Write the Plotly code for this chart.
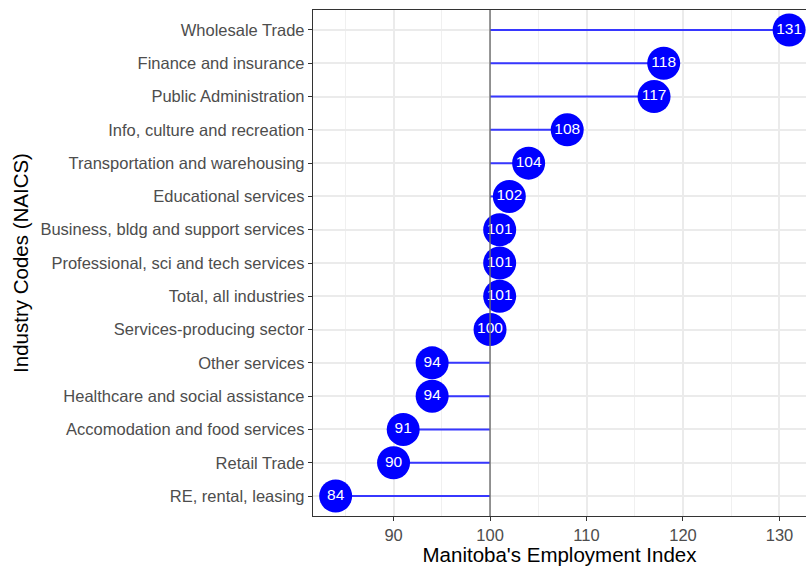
import plotly.graph_objects as go

industries = [
    "Wholesale Trade",
    "Finance and insurance",
    "Public Administration",
    "Info, culture and recreation",
    "Transportation and warehousing",
    "Educational services",
    "Business, bldg and support services",
    "Professional, sci and tech services",
    "Total, all industries",
    "Services-producing sector",
    "Other services",
    "Healthcare and social assistance",
    "Accomodation and food services",
    "Retail Trade",
    "RE, rental, leasing",
]
index_values = [131, 118, 117, 108, 104, 102, 101, 101, 101, 100, 94, 94, 91, 90, 84]
baseline = 100
x_ticks = [90, 100, 110, 120, 130]

FONT = "Liberation Sans, Arial, sans-serif"
BLUE = "#0000ff"

seg_x, seg_y = [], []
for cat, v in zip(industries, index_values):
    seg_x += [baseline, v, None]
    seg_y += [cat, cat, None]

fig = go.Figure()
fig.add_trace(go.Scatter(
    x=seg_x, y=seg_y, mode="lines",
    line=dict(color="rgb(55,55,255)", width=2),
    hoverinfo="skip", showlegend=False,
))
fig.add_trace(go.Scatter(
    x=index_values, y=industries, mode="markers+text",
    marker=dict(color=BLUE, size=33, line=dict(width=0)),
    text=[str(v) for v in index_values],
    textposition="middle center",
    textfont=dict(color="white", size=15.5, family=FONT),
    showlegend=False, cliponaxis=False,
))
fig.add_shape(type="line", xref="x", yref="paper", x0=baseline, x1=baseline, y0=0, y1=1,
              line=dict(color="#6e6e6e", width=1.4), layer="above")

n = len(industries)
fig.update_layout(
    width=806, height=566,
    margin=dict(l=313, r=0, t=10, b=50),
    plot_bgcolor="white", paper_bgcolor="white",
    font=dict(family=FONT),
    xaxis=dict(
        range=[81.65, 132.75], automargin=False,
        tickmode="array", tickvals=x_ticks, ticktext=[str(t) for t in x_ticks],
        showgrid=True, gridcolor="#ebebeb", gridwidth=1.6,
        minor=dict(tickmode="array", tickvals=[85, 95, 105, 115, 125], showgrid=True,
                   gridcolor="#f0f0f0", gridwidth=1, ticks=""),
        zeroline=False,
        showline=True, linecolor="#333333", linewidth=1.3, mirror=True,
        ticks="outside", ticklen=4, tickcolor="#333333", tickwidth=1.2,
        tickfont=dict(size=16.5, color="#4d4d4d"),
        title=dict(text="Manitoba's Employment Index", font=dict(size=20.5, color="black"), standoff=4),
    ),
    yaxis=dict(
        categoryorder="array", categoryarray=industries, automargin=False,
        range=[n - 1 + 0.6, -0.6],
        showgrid=True, gridcolor="#ebebeb", gridwidth=1.6,
        zeroline=False,
        showline=True, linecolor="#333333", linewidth=1.3,
        ticks="outside", ticklen=4, tickcolor="#333333", tickwidth=1.2,
        tickfont=dict(size=16.5, color="#4d4d4d"),
        title=dict(text="Industry Codes (NAICS)", font=dict(size=20.5, color="black"), standoff=6),
    ),
)

fig.write_html(
    "out.html",
    config={"displayModeBar": False},
    post_script="document.body.style.margin='0';document.body.style.overflow='hidden';",
)
